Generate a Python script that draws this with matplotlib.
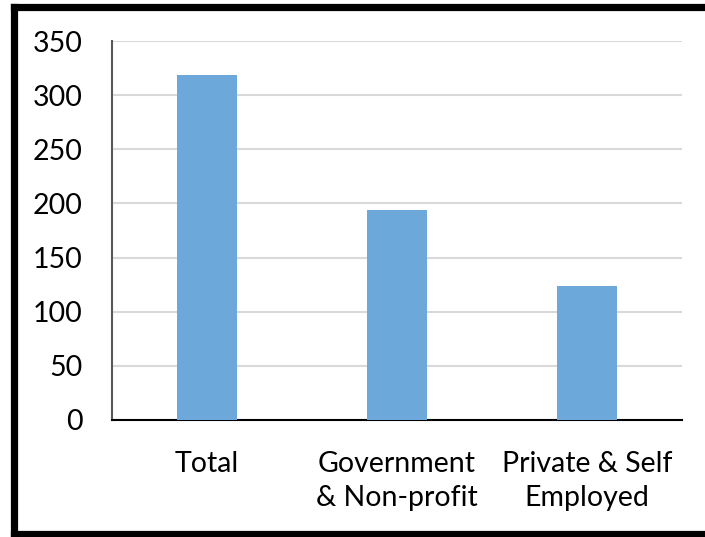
import matplotlib
matplotlib.use("Agg")
import matplotlib.pyplot as plt
from matplotlib.lines import Line2D

categories = ["Total", "Government\n& Non-profit", "Private & Self\nEmployed"]
values = [319, 194, 124]
yticks = [0, 50, 100, 150, 200, 250, 300, 350]

plt.rcParams["font.family"] = ["Lato", "DejaVu Sans"]

fig = plt.figure(figsize=(7.05, 5.37), dpi=100, facecolor="white")
ax = fig.add_axes([112 / 705, 117 / 537, 570 / 705, 379 / 537])

x = range(len(categories))
ax.bar(x, values, width=0.315, color="#6CA9DA", zorder=3)
ax.set_xlim(-0.5, len(categories) - 0.5)
ax.set_ylim(0, 350)
ax.set_yticks(yticks)
ax.set_xticks(list(x))
ax.set_xticklabels(categories, linespacing=1.4)
ax.yaxis.grid(True, color="#D9D9D9", lw=1.5, zorder=0)
ax.tick_params(axis="both", length=0, labelsize=20.5, colors="black")
ax.tick_params(axis="y", pad=21)
ax.tick_params(axis="x", pad=22)
for s in ["top", "right"]:
    ax.spines[s].set_visible(False)
ax.spines["left"].set_color("#595959")
ax.spines["left"].set_linewidth(1.5)
ax.spines["bottom"].set_color("black")
ax.spines["bottom"].set_linewidth(1.5)

# thick black frame: left, top, bottom (right edge runs off the image)
W, H = 705, 537
frame = dict(transform=fig.transFigure, color="black", lw=5.2,
             solid_capstyle="projecting", zorder=10)
fig.add_artist(Line2D([13.5 / W, 13.5 / W], [1 - 6.5 / H, 1 - 534 / H], **frame))
fig.add_artist(Line2D([13.5 / W, 1.05], [1 - 6.5 / H, 1 - 6.5 / H], **frame))
fig.add_artist(Line2D([13.5 / W, 1.05], [1 - 534 / H, 1 - 534 / H], **frame))

fig.savefig("out.png", dpi=100, facecolor="white")
